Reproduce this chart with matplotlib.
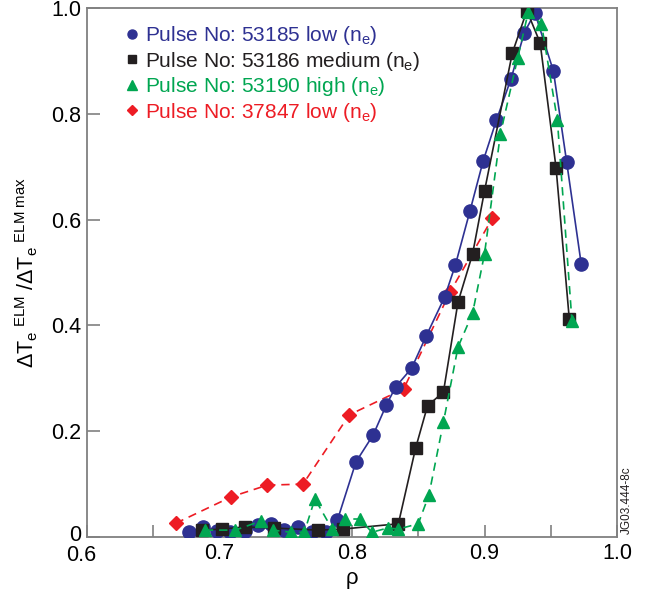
import matplotlib
matplotlib.use("Agg")
import matplotlib.pyplot as plt
import matplotlib.transforms as mtransforms
from matplotlib.lines import Line2D
from matplotlib.ticker import MultipleLocator

plt.rcParams['font.family'] = ['Liberation Sans', 'DejaVu Sans']
plt.rcParams['mathtext.fontset'] = 'custom'
plt.rcParams['mathtext.rm'] = 'Liberation Sans'
plt.rcParams['mathtext.it'] = 'Liberation Sans:italic'

# ---- data ----
rho_53185 = [0.677, 0.6875, 0.698, 0.708, 0.719, 0.729, 0.739, 0.749, 0.759, 0.770,
             0.780, 0.789, 0.803, 0.816, 0.826, 0.833, 0.845, 0.856, 0.870, 0.878,
             0.889, 0.899, 0.909, 0.920, 0.930, 0.938, 0.952, 0.962, 0.973]
dte_53185 = [0.009, 0.019, 0.011, 0.009, 0.011, 0.023, 0.025, 0.013, 0.019, 0.009,
             0.009, 0.032, 0.142, 0.193, 0.250, 0.284, 0.319, 0.380, 0.454, 0.514,
             0.616, 0.711, 0.788, 0.866, 0.953, 0.991, 0.881, 0.709, 0.516]

rho_53186 = [0.687, 0.702, 0.719, 0.741, 0.774, 0.793, 0.835, 0.848, 0.857, 0.869,
             0.880, 0.891, 0.900, 0.921, 0.932, 0.942, 0.954, 0.964]
dte_53186 = [0.013, 0.015, 0.019, 0.017, 0.013, 0.015, 0.025, 0.168, 0.248, 0.274,
             0.444, 0.535, 0.654, 0.915, 0.995, 0.934, 0.698, 0.412]

rho_53190 = [0.689, 0.712, 0.731, 0.740, 0.754, 0.764, 0.772, 0.785, 0.795, 0.806,
             0.815, 0.827, 0.835, 0.850, 0.858, 0.869, 0.880, 0.891, 0.900, 0.912,
             0.925, 0.933, 0.943, 0.955, 0.966]
dte_53190 = [0.013, 0.013, 0.030, 0.013, 0.009, 0.009, 0.072, 0.015, 0.034, 0.034,
             0.009, 0.017, 0.015, 0.025, 0.079, 0.217, 0.359, 0.423, 0.535, 0.762,
             0.905, 0.992, 0.970, 0.788, 0.408]

rho_37847 = [0.667, 0.709, 0.736, 0.763, 0.798, 0.839, 0.874, 0.906]
dte_37847 = [0.026, 0.076, 0.098, 0.100, 0.231, 0.280, 0.463, 0.603]

labels = [r'Pulse No: 53185 low (n$_\mathregular{e}$)',
          r'Pulse No: 53186 medium (n$_\mathregular{e}$)',
          r'Pulse No: 53190 high (n$_\mathregular{e}$)',
          r'Pulse No: 37847 low (n$_\mathregular{e}$)']

x_ticklabels = ['0.6', '0.7', '0.8', '0.9', '1.0']
y_ticklabels = ['0', '0.2', '0.4', '0.6', '0.8', '1.0']

BLUE = '#2E3192'
BLACK = '#231F20'
GREEN = '#00A651'
RED = '#ED1C24'

fig = plt.figure(figsize=(6.45, 5.97), dpi=100)
ax = fig.add_axes([87/645, 60/597, 530/645, 529/597])

ax.plot(rho_37847, dte_37847, color=RED, ls=(0, (5, 3.5)), lw=1.2,
        marker='D', ms=7.5, mec=RED, mfc=RED, zorder=2)
ax.plot(rho_53185, dte_53185, color=BLUE, ls='-', lw=1.2,
        marker='o', ms=9.5, mec=BLUE, mfc=BLUE, zorder=3)
ax.plot(rho_53186, dte_53186, color=BLACK, ls='-', lw=1.2,
        marker='s', ms=8, mec=BLACK, mfc=BLACK, zorder=4)
ax.plot(rho_53190, dte_53190, color=GREEN, ls=(0, (5, 3.5)), lw=1.2,
        marker='^', ms=9, mec=GREEN, mfc=GREEN, zorder=5)

ax.set_xlim(0.6, 1.0)
ax.set_ylim(0, 1.0)
ax.xaxis.set_minor_locator(MultipleLocator(0.05))
ax.tick_params(axis='both', which='both', direction='in', length=9, width=1.2,
               color='#808080', top=False, right=False, labelsize=15.5, pad=4)
ax.set_xticks([0.6, 0.7, 0.8, 0.9, 1.0])
ax.set_xticklabels(x_ticklabels)
ax.set_yticks([0, 0.2, 0.4, 0.6, 0.8, 1.0])
ax.set_yticklabels(y_ticklabels)
for s in ax.spines.values():
    s.set_color('#808080')
    s.set_linewidth(1.3)

# nudge the corner labels apart as in the reference
ylab0 = ax.get_yticklabels()[0]
ylab0.set_transform(ylab0.get_transform() +
                    mtransforms.ScaledTranslation(0, 4/100, fig.dpi_scale_trans))
xlab0 = ax.get_xticklabels()[0]
xlab0.set_transform(xlab0.get_transform() +
                    mtransforms.ScaledTranslation(-6/100, -2/100, fig.dpi_scale_trans))

ax.set_xlabel(r'$\mathregular{\rho}$', fontsize=16, labelpad=3)
ax.set_ylabel(r'$\mathregular{\Delta T_e{}^{\ ELM}\ /\Delta T_e{}^{\ ELM\ max}}$',
              fontsize=15.5, labelpad=8)

handles = [Line2D([], [], ls='none', marker='o', ms=6.5, color=BLUE),
           Line2D([], [], ls='none', marker='s', ms=6, color=BLACK),
           Line2D([], [], ls='none', marker='^', ms=6.5, color=GREEN),
           Line2D([], [], ls='none', marker='D', ms=5.5, color=RED)]
leg = ax.legend(handles, labels, loc='upper left', bbox_to_anchor=(0.058, 0.985),
                frameon=False, fontsize=15, handlelength=0.6, handletextpad=0.3,
                labelspacing=0.12, borderaxespad=0)
for t, c in zip(leg.get_texts(), [BLUE, BLACK, GREEN, RED]):
    t.set_color(c)

fig.text(627/645, 1 - 500/597, 'JG03.444-8c', rotation=90, fontsize=8.5,
         ha='center', va='center', color=BLACK)

fig.savefig('out.png', dpi=100)
